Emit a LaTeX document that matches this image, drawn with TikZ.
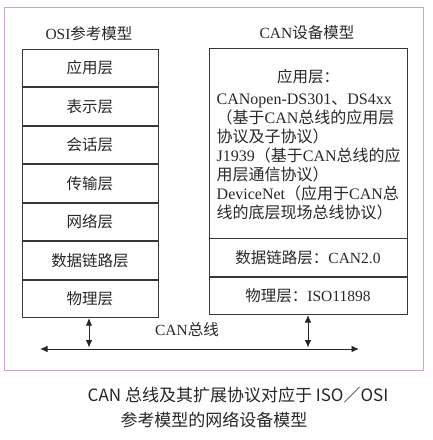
\documentclass[tikz,border=0pt]{standalone}
\usepackage{fontspec}
\setmainfont{Liberation Serif}
\newfontfamily\cjk{Noto Sans CJK SC}
\usetikzlibrary{arrows.meta}
\definecolor{framec}{RGB}{200,165,205}
\definecolor{linec}{RGB}{55,55,55}
\definecolor{txtc}{RGB}{40,40,40}
\tikzset{
  layer/.style={draw=linec, line width=0.8pt, minimum width=136pt, minimum height=37.7pt, inner sep=0pt, font=\fontsize{15.5}{18.9}\selectfont, text=txtc},
  rlayer/.style={draw=linec, line width=0.8pt, minimum width=198pt, inner sep=0pt, font=\fontsize{15.5}{18.9}\selectfont, text=txtc},
  txt/.style={inner sep=0pt, font=\fontsize{15.5}{18.9}\selectfont, text=txtc},
  rtxt/.style={inner sep=0pt, font=\fontsize{16}{18.9}\selectfont, text=txtc},
  captxt/.style={inner sep=0pt, font=\cjk\fontsize{17}{20}\selectfont, text=black!85},
  busarrow/.style={line width=0.9pt, draw=black!85, {Latex[length=7.5pt,width=6.5pt]}-{Latex[length=7.5pt,width=6.5pt]}}
}
\begin{document}
\begin{tikzpicture}[x=1pt,y=-1pt]
\useasboundingbox (0,0) rectangle (432,440);
% frame
\draw[framec, line width=1pt] (4,7) rectangle (423,370);
% titles
\node[txt] (t1) at (89,34) {OSI{\cjk 参考模型}};
\node[txt] (t2) at (307,33) {CAN{\cjk 设备模型}};
% left stack
\node[layer] (l1) at (90,67.85) {\cjk 应用层};
\node[layer, anchor=north] (l2) at (l1.south) {\cjk 表示层};
\node[layer, anchor=north] (l3) at (l2.south) {\cjk 会话层};
\node[layer, anchor=north] (l4) at (l3.south) {\cjk 传输层};
\node[layer, anchor=north] (l5) at (l4.south) {\cjk 网络层};
\node[layer, anchor=north] (l6) at (l5.south) {\cjk 数据链路层};
\node[layer, anchor=north] (l7) at (l6.south) {\cjk 物理层};
% right stack
\node[rlayer, minimum height=190pt] (r1) at (308,143) {};
\node[rlayer, minimum height=38pt, anchor=north] (r2) at (r1.south) {{\cjk 数据链路层：}CAN2.0};
\node[rlayer, minimum height=37pt, anchor=north] (r3) at (r2.south) {{\cjk 物理层：}ISO11898};
\node[txt] (r1h) at (308,77) {\cjk 应用层：};
\node[rtxt, anchor=north west, align=left] (r1t) at (216.5,94) {%
CANopen-DS301{\cjk 、}DS4xx\\
{\cjk （基于}CAN{\cjk 总线的应用层}\\
{\cjk 协议及子协议）}\\
J1939{\cjk （基于}CAN{\cjk 总线的应}\\
{\cjk 用层通信协议）}\\
DeviceNet{\cjk （应用于}CAN{\cjk 总}\\
{\cjk 线的底层现场总线协议）}};
% bus
\coordinate (busL) at (40,349);
\coordinate (busR) at (359,349);
\coordinate (tapL) at (89,347.5);
\coordinate (tapR) at (308,347.5);
\draw[busarrow] (busL) -- (busR);
\draw[busarrow] (l7.south -| tapL) -- (tapL);
\draw[busarrow] (r3.south -| tapR) -- (tapR);
\node[txt] (bus) at (187,330) {CAN{\cjk 总线}};
% caption
\node[captxt] (c1) at (238,395) {CAN 总线及其扩展协议对应于 ISO／OSI};
\node[captxt] (c2) at (214,420) {参考模型的网络设备模型};
\end{tikzpicture}
\end{document}
